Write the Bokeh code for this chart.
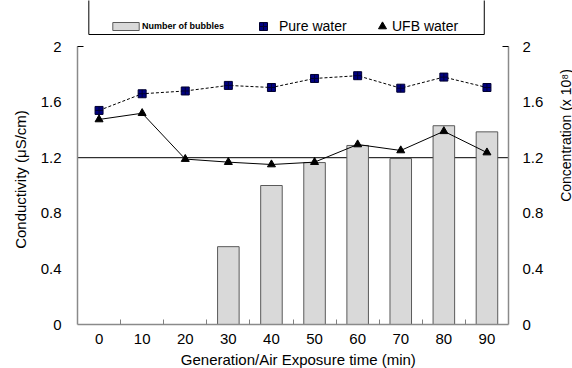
import math
from bokeh.plotting import figure
from bokeh.models import (Range1d, LinearAxis, FixedTicker, Span, Legend, LegendItem)
from bokeh.layouts import row, column
from bokeh.core.properties import value
from bokeh.embed import file_html
from bokeh.resources import INLINE

# ---- data ----
times = [0, 10, 20, 30, 40, 50, 60, 70, 80, 90]
x_tick_labels = ["0", "10", "20", "30", "40", "50", "60", "70", "80", "90"]
pure_water = [1.54, 1.66, 1.68, 1.72, 1.705, 1.77, 1.79, 1.70, 1.78, 1.705]
ufb_water = [1.475, 1.52, 1.19, 1.168, 1.151, 1.168, 1.295, 1.252, 1.39, 1.237]
bubbles = [0, 0, 0, 0.56, 1.00, 1.165, 1.288, 1.194, 1.43, 1.386]
y_ticks = [0, 0.4, 0.8, 1.2, 1.6, 2.0]
y_tick_labels = ["0", "0.4", "0.8", "1.2", "1.6", "2"]
ref_level = 1.2
x_title = "Generation/Air Exposure time (min)"
y_title = "Conductivity (\u03bcS/cm)"
y2_title = "Concentration (x 10\u2078)"

FONT = "Liberation Sans"
PX_PER_UNIT = 139.0
FRAME_H = 324
y_top = FRAME_H / PX_PER_UNIT

LEFT_W, RIGHT_W, BOTTOM_H = 30, 16, 18
MAIN_W, MAIN_H = 572 - LEFT_W - RIGHT_W, 368 - BOTTOM_H

p = figure(width=MAIN_W, height=MAIN_H, output_backend="svg", toolbar_location=None,
           x_range=Range1d(-5, 95), y_range=Range1d(0, y_top),
           min_border_left=77 - LEFT_W, min_border_right=48, min_border_top=0,
           min_border_bottom=MAIN_H - FRAME_H,
           outline_line_color=None, background_fill_color="white", border_fill_color="white")
p.grid.visible = False
p.extra_y_ranges = {"conc": Range1d(0, y_top)}

# reference line
p.add_layout(Span(location=ref_level, dimension="width", line_color="black",
                  line_width=1, level="underlay"))

# bars (number of bubbles) on right axis
bar_x = [t for t, b in zip(times, bubbles) if b > 0]
bar_top = [b for b in bubbles if b > 0]
bars = p.vbar(x=bar_x, top=bar_top, width=5, y_range_name="conc",
              fill_color="#d9d9d9", line_color="#5a5a5a", line_width=1)

# lines + markers
p.line(times, pure_water, line_color="black", line_width=1, line_dash="3 2")
sq = p.scatter(times, pure_water, marker="square_cross", size=8,
               fill_color="#000080", line_color="#000030", line_width=1)
p.line(times, ufb_water, line_color="black", line_width=1)
tri = p.scatter(times, ufb_water, marker="triangle", size=8,
                fill_color="black", line_color="black")

# legend frame: three sides, the top one lies above the page as in the original
box_l, box_r, box_b = -2.375, 89.38, (324 - 34) / PX_PER_UNIT
p.line([box_l, box_l, box_r, box_r], [y_top + 1, box_b, box_b, y_top + 1],
       line_color="black", line_width=1)

# axes
minor_x = [(a + b) / 2 for a, b in zip(times[:-1], times[1:])]
xa = p.xaxis[0]
xa.ticker = FixedTicker(ticks=times, minor_ticks=minor_x)
xa.major_label_overrides = {t: s for t, s in zip(times, x_tick_labels)}
xa.major_tick_in = 0
xa.major_tick_out = 0
xa.minor_tick_in = 5
xa.minor_tick_out = 0
xa.minor_tick_line_color = "#808080"
xa.axis_line_color = "#8a8a8a"
xa.axis_line_width = 1.5
xa.major_label_standoff = 9
xa.major_label_text_font = FONT
xa.major_label_text_font_size = "15px"
xa.major_label_text_color = "black"


def style_y(ax, standoff):
    ax.ticker = FixedTicker(ticks=y_ticks, minor_ticks=[y_ticks[-1]])
    ax.major_label_overrides = {t: s for t, s in zip(y_ticks, y_tick_labels)}
    ax.bounds = (y_ticks[0], y_ticks[-1])
    ax.major_tick_in = 0
    ax.major_tick_out = 0
    ax.minor_tick_in = 6
    ax.minor_tick_out = 0
    ax.minor_tick_line_color = "black"
    ax.axis_line_color = "#8a8a8a"
    ax.axis_line_width = 1.5
    ax.major_label_standoff = standoff
    ax.major_label_text_font = FONT
    ax.major_label_text_font_size = "15px"
    ax.major_label_text_color = "black"


style_y(p.yaxis[0], 16)
yr = LinearAxis(y_range_name="conc")
style_y(yr, 14)
p.add_layout(yr, "right")

common = dict(orientation="horizontal", padding=0, margin=0, spacing=0,
              border_line_color=None, background_fill_color=None, background_fill_alpha=0,
              label_text_font=FONT, label_text_color="black")
p.add_layout(Legend(items=[LegendItem(label="Number of bubbles", renderers=[bars])],
                    location=(32, 293), glyph_width=33, glyph_height=10, label_height=10,
                    label_standoff=0, label_text_font_size="9px",
                    label_text_font_style="bold", **common))
p.add_layout(Legend(items=[LegendItem(label="Pure water", renderers=[sq])],
                    location=(176, 288), glyph_width=20, glyph_height=20, label_height=20,
                    label_standoff=6, label_text_font_size="14px", **common))
p.add_layout(Legend(items=[LegendItem(label="UFB water", renderers=[tri])],
                    location=(295, 288), glyph_width=20, glyph_height=20, label_height=20,
                    label_standoff=0, label_text_font_size="14px", **common))


# ---- axis titles in thin side panels (so they can sit where the original has them) ----
def text_panel(w, h):
    f = figure(width=w, height=h, output_backend="svg", toolbar_location=None,
               x_range=Range1d(0, w), y_range=Range1d(0, h),
               x_axis_type=None, y_axis_type=None,
               min_border_left=0, min_border_right=0, min_border_top=0, min_border_bottom=0,
               outline_line_color=None, background_fill_color="white",
               border_fill_color="white")
    f.grid.visible = False
    return f


left = text_panel(LEFT_W, 368)
left.text(x=[20], y=[368 - 179], text=[y_title], angle=math.pi / 2,
          text_align="center", text_baseline="middle", text_font=value(FONT),
          text_font_size="15px", text_color="black")

right = text_panel(RIGHT_W, 368)
right.text(x=[9], y=[368 - 135], text=[y2_title], angle=math.pi / 2,
           text_align="center", text_baseline="middle", text_font=value(FONT),
           text_font_size="14px", text_color="black")

bottom = text_panel(MAIN_W, BOTTOM_H)
bottom.text(x=[299.5 - LEFT_W], y=[BOTTOM_H / 2], text=[x_title],
            text_align="center", text_baseline="middle", text_font=value(FONT),
            text_font_size="15px", text_color="black")

layout = row(left, column(p, bottom, spacing=0), right, spacing=0)
open("out.html", "w").write(file_html(layout, INLINE))
